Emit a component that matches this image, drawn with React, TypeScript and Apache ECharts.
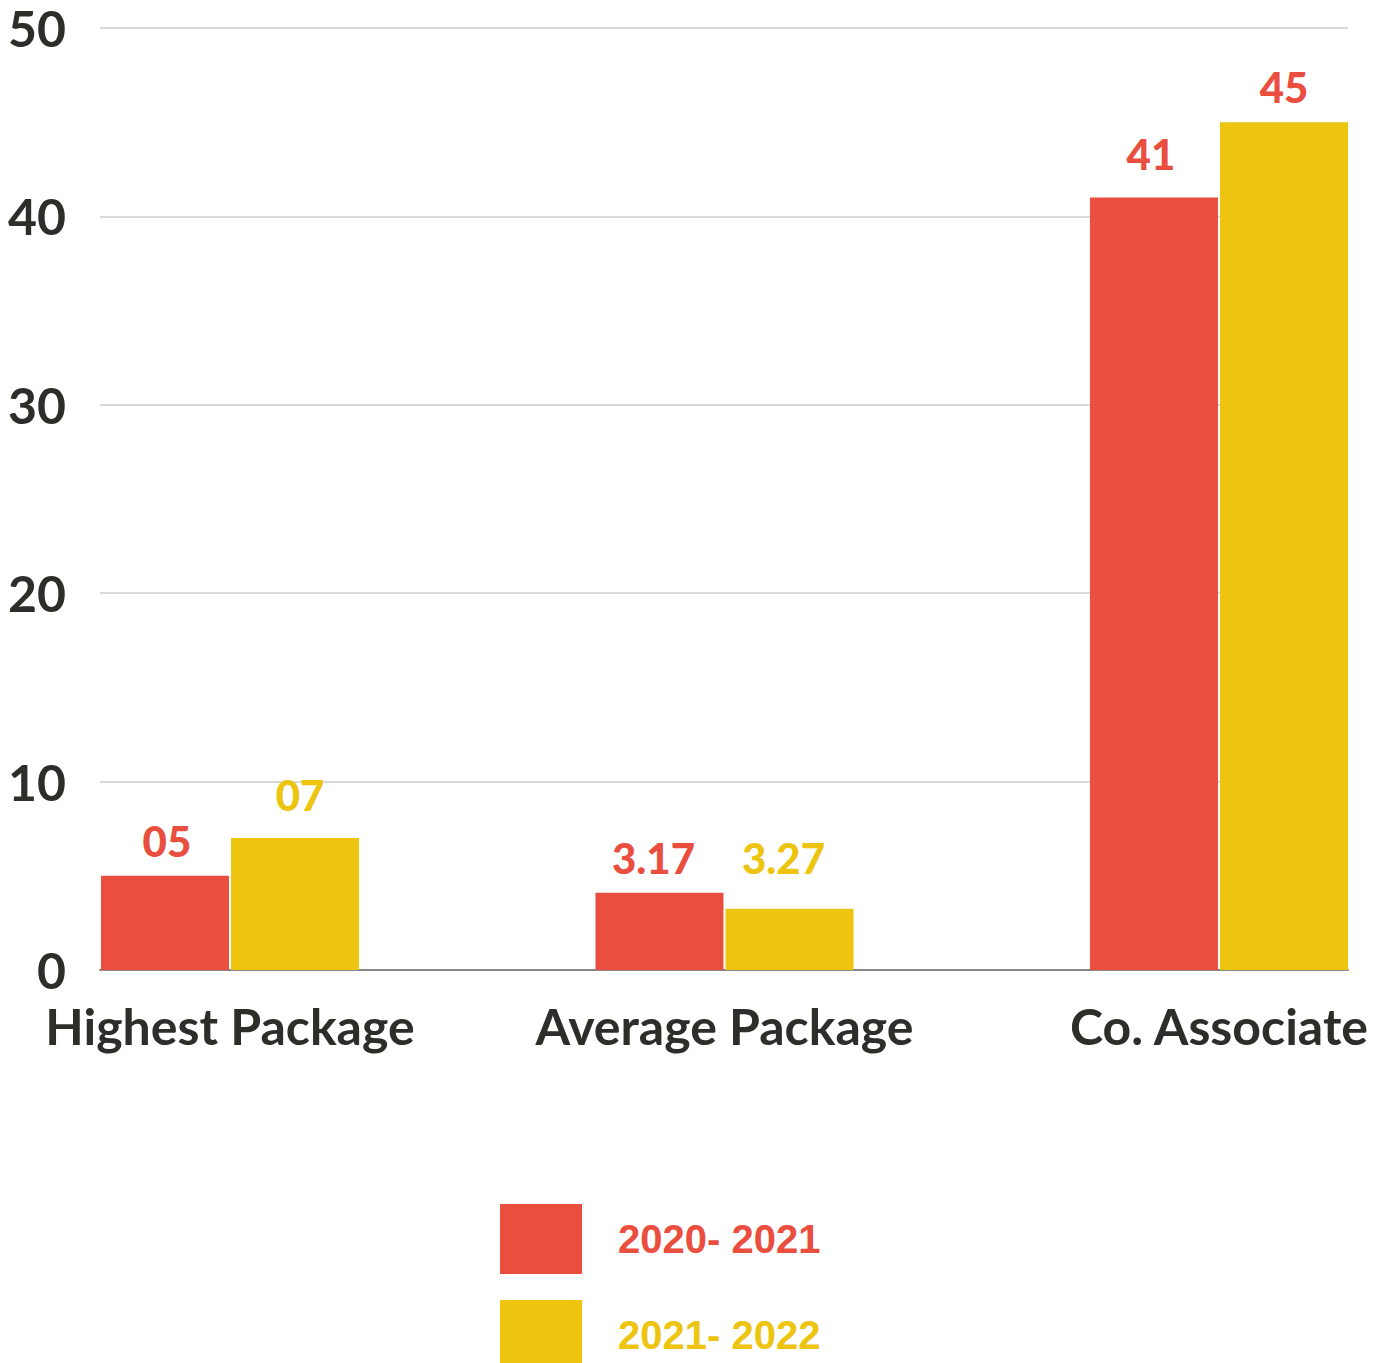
import React, { useEffect, useRef } from "react";
import * as echarts from "echarts";

const categories = ["Highest Package", "Average Package", "Co. Associate"];
const seriesNames = ["2020- 2021", "2021- 2022"];
const values2021 = [5, 4.1, 41];
const values2122 = [7, 3.25, 45];
const labels2021 = ["05", "3.17", "41"];
const labels2122 = ["07", "3.27", "45"];
const yTicks = [0, 10, 20, 30, 40, 50];

const RED = "#e94e3e";
const YELLOW = "#edc40f";
const DARK = "#2d2d29";

// label styling tweaks (offsets in px) per series / category
const labelOffsets = [
  [[2, 0], [-6, 0], [-3, -9]],
  [[5, -8], [-6, -16], [0, 0]],
];

export default function App() {
  const ref = useRef<HTMLDivElement>(null);
  useEffect(() => {
    if (!ref.current) return;
    const chart = echarts.init(ref.current, undefined, { renderer: "svg" });
    const labelFont = {
      fontFamily: "Lato",
      fontWeight: 900 as any,
      fontSize: 42,
    };
    const mkData = (vals: number[], labels: string[], idx: number) =>
      vals.map((v, i) => {
        const item: any = {
          value: v,
          label: { formatter: labels[i], offset: labelOffsets[idx][i] },
        };
        if (idx === 1 && i === 2) item.label.color = RED;
        return item;
      });
    chart.setOption({
      animation: false,
      backgroundColor: "#ffffff",
      grid: [
        { left: 100, right: 38, top: 28, bottom: 393 },
        { left: 230, right: 167, top: 28, bottom: 393 },
      ],
      legend: {
        data: [
          { name: seriesNames[0], textStyle: { color: RED } },
          { name: seriesNames[1], textStyle: { color: YELLOW } },
        ],
        orient: "vertical",
        left: 495,
        top: 1199,
        height: 220,
        itemWidth: 82,
        itemHeight: 70,
        itemGap: 26,
        icon: "rect",
        selectedMode: false,
        textStyle: {
          fontFamily: "Liberation Sans",
          fontWeight: "bold",
          fontSize: 40,
          padding: [8, 0, 0, 31],
        },
      },
      xAxis: [
        {
          type: "value",
          gridIndex: 0,
          min: 0,
          max: 1,
          axisLabel: { show: false },
          axisTick: { show: false },
          splitLine: { show: false },
          axisLine: { show: true, lineStyle: { color: "#888888", width: 2 } },
        },
        {
          type: "category",
          gridIndex: 1,
          data: categories,
          boundaryGap: false,
          axisLine: { show: false },
          axisTick: { show: false },
          axisLabel: {
            margin: 31,
            fontFamily: "Lato",
            fontWeight: "bold",
            fontSize: 50,
            color: DARK,
            interval: 0,
          },
        },
      ],
      yAxis: [
        {
          type: "value",
          gridIndex: 0,
          min: yTicks[0],
          max: yTicks[yTicks.length - 1],
          interval: 10,
          axisLine: { show: false },
          axisTick: { show: false },
          axisLabel: {
            margin: 34,
            fontFamily: "Lato",
            fontWeight: "bold",
            fontSize: 50,
            lineHeight: 44,
            color: DARK,
          },
          splitLine: { show: true, lineStyle: { color: "#cccccc", width: 1.5 } },
        },
        {
          type: "value",
          gridIndex: 1,
          min: 0,
          max: 50,
          interval: 10,
          show: false,
          splitLine: { show: false },
        },
      ],
      series: [
        {
          name: seriesNames[0],
          type: "bar",
          xAxisIndex: 1,
          yAxisIndex: 1,
          clip: false,
          barWidth: 128,
          barGap: "1.6%",
          itemStyle: { color: RED },
          label: { show: true, position: "top", distance: 14, color: RED, ...labelFont },
          data: mkData(values2021, labels2021, 0),
        },
        {
          name: seriesNames[1],
          type: "bar",
          xAxisIndex: 1,
          yAxisIndex: 1,
          clip: false,
          barWidth: 128,
          barGap: "1.6%",
          itemStyle: { color: YELLOW },
          label: { show: true, position: "top", distance: 14, color: YELLOW, ...labelFont },
          data: mkData(values2122, labels2122, 1),
        },
      ],
    });
    return () => chart.dispose();
  }, []);
  return (
    <div
      ref={ref}
      style={{ position: "fixed", left: 0, top: 0, width: 1386, height: 1363 }}
    />
  );
}
